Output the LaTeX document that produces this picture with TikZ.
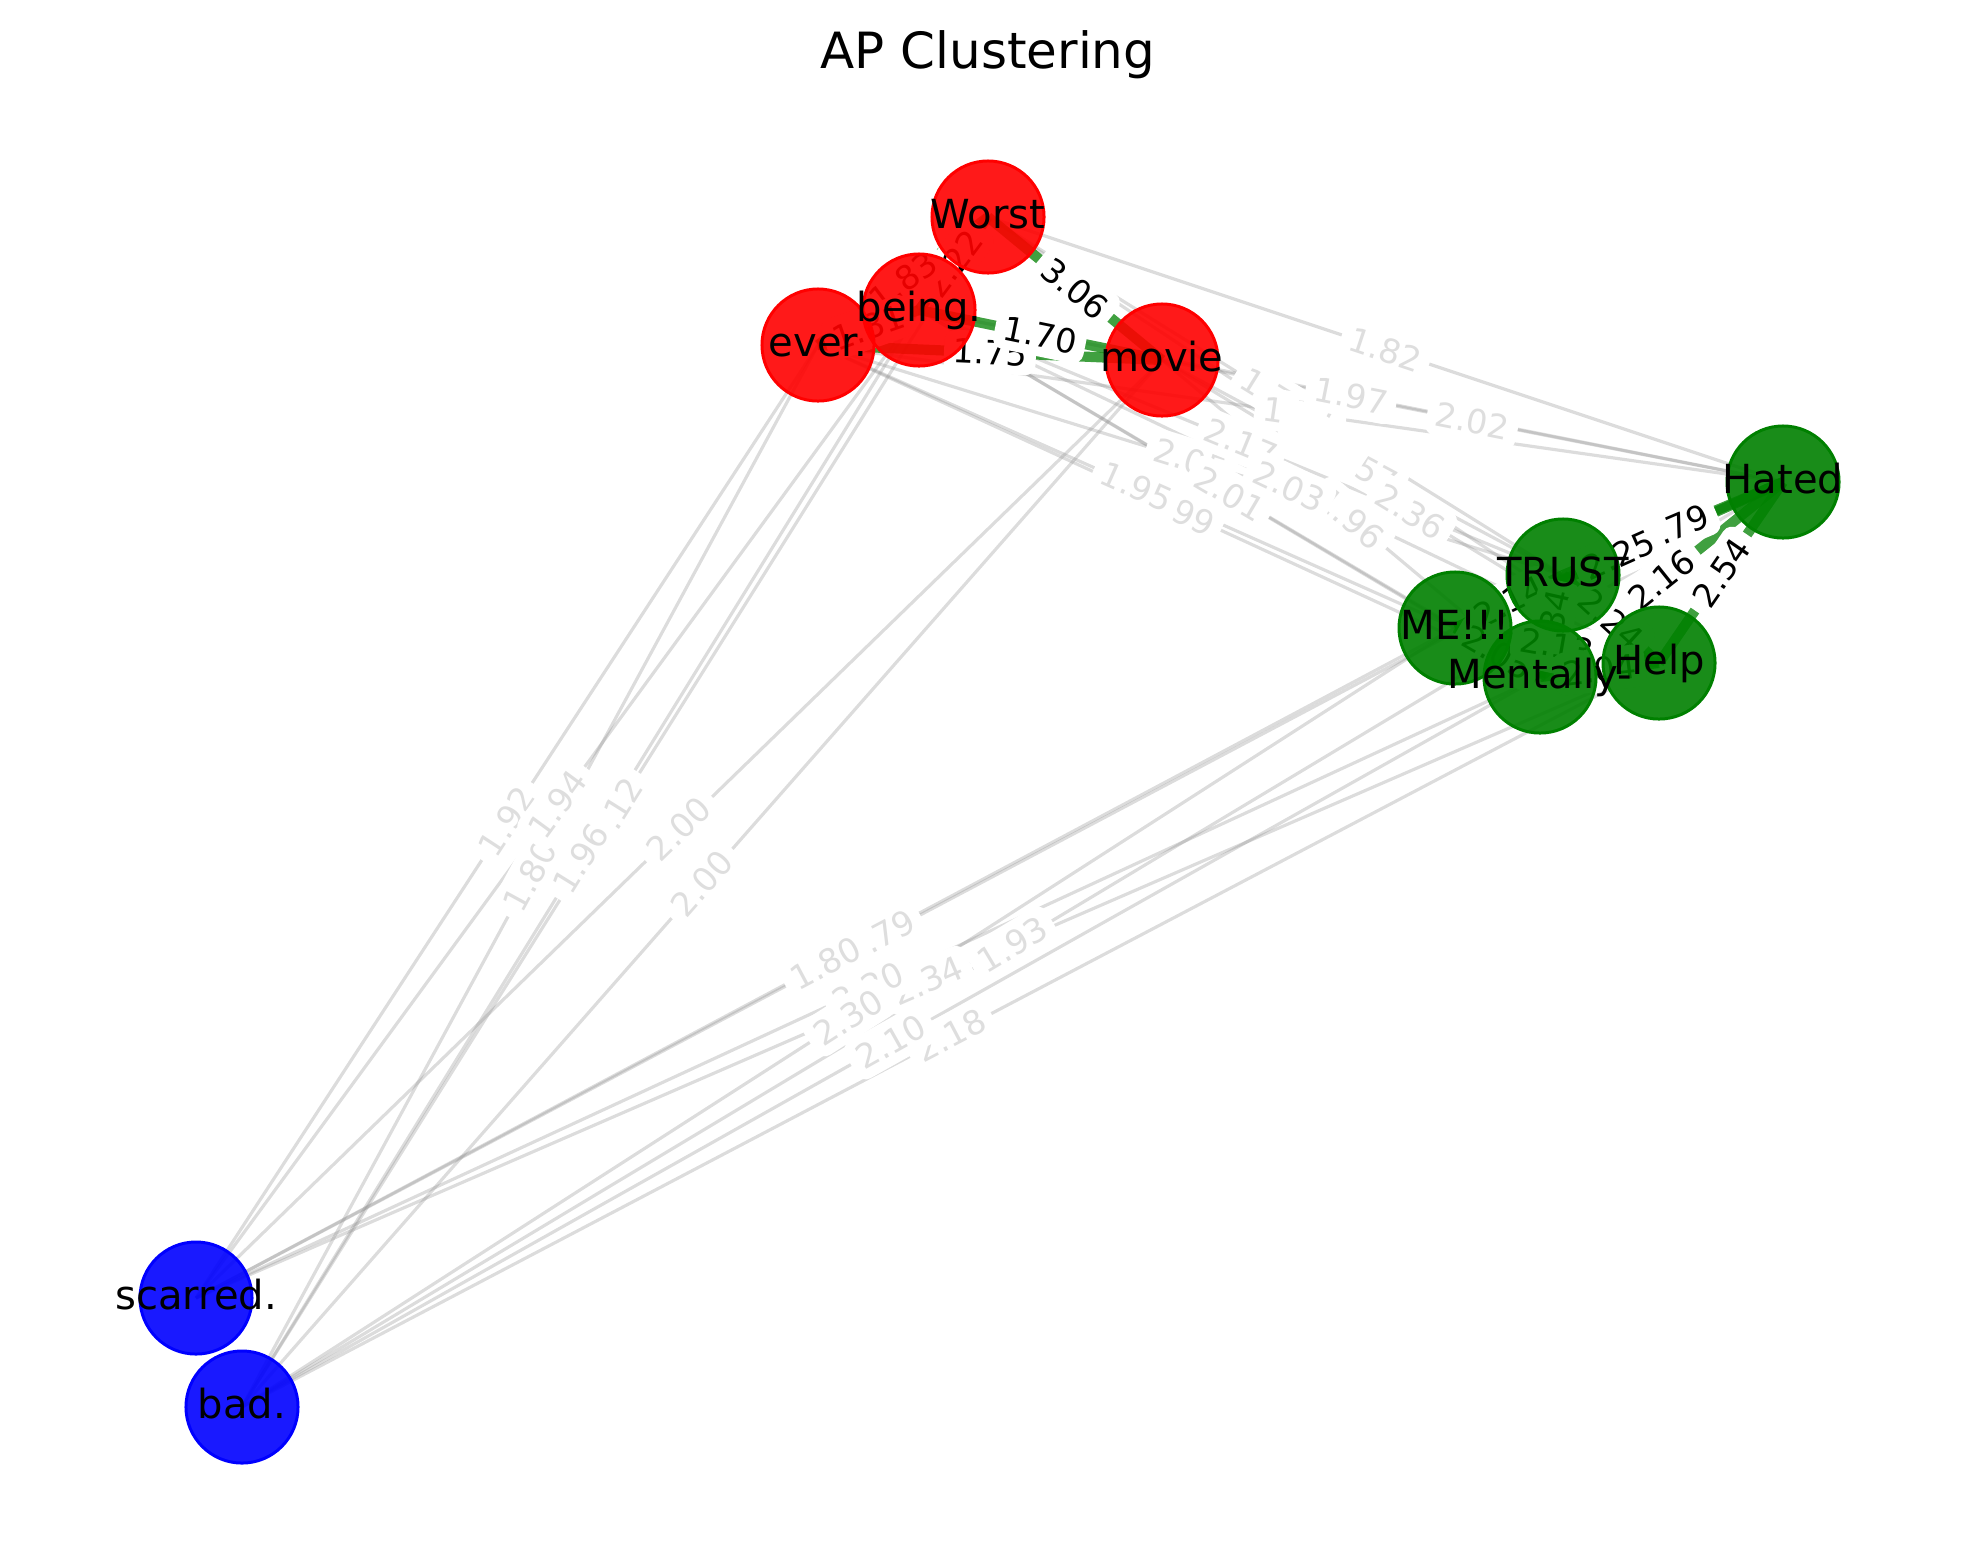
\documentclass[tikz,border=0pt]{standalone}
\usepackage{fontspec}
\setmainfont{DejaVu Sans}
\newcommand{\nolabel}{\phantom{0.00}}

\begin{document}
\begin{tikzpicture}[x={(0.01cm,0cm)}, y={(0cm,-0.01cm)},
    interedge/.style={draw=black!45, opacity=0.3, line width=0.9pt},
    intraedge/.style={draw=green!50!black, opacity=0.75, line width=2.9pt},
    wlabel/.style={midway, sloped, fill=white, rounded corners=3pt, inner sep=2.5pt,
        font=\fontsize{9.5}{11}\selectfont},
    graylabel/.style={wlabel, text=black!13},
    blacklabel/.style={wlabel, text=black},
    word/.style={circle, minimum size=1.12cm, inner sep=0pt, line width=0.85pt, fill opacity=0.9},
    wordtext/.style={font=\fontsize{11.4}{13}\selectfont, inner sep=0pt,
        text height=0.76em, text depth=0.1em}]
    % canvas measured in pixels of the figure, y pointing down
    \useasboundingbox (0,0) rectangle (1980,1563);
    \node[anchor=base] (title) at (988,68) {\fontsize{14.2}{17}\selectfont AP Clustering};

    % word positions
    \coordinate (worst) at (988,217);
    \coordinate (being) at (919,310);
    \coordinate (ever) at (818,345);
    \coordinate (movie) at (1162,360);
    \coordinate (hated) at (1783,482);
    \coordinate (trust) at (1563,575);
    \coordinate (me) at (1455,628);
    \coordinate (mentally) at (1540,677);
    \coordinate (help) at (1659,663);
    \coordinate (scarred) at (196,1298);
    \coordinate (bad) at (242,1407);

    % edges between clusters
    \foreach \a/\b in {worst/trust, ever/mentally, ever/trust, being/trust, movie/trust,
        movie/mentally, worst/hated, ever/hated, worst/help, being/hated, movie/hated,
        ever/me, being/me, being/mentally, being/help, movie/help,
        ever/scarred, ever/bad, worst/bad, being/scarred, being/bad, movie/scarred, movie/bad,
        help/scarred, mentally/scarred, trust/scarred, me/scarred, help/bad, me/bad,
        mentally/bad, hated/bad}
        \draw[interedge] (\a) -- (\b);

    % edges inside a cluster
    \foreach \a/\b in {worst/being, worst/ever, being/ever, ever/movie, worst/movie,
        being/movie, hated/trust, hated/me, hated/mentally, hated/help, trust/me,
        trust/mentally, trust/help, me/mentally, me/help, mentally/help}
        \draw[intraedge] (\a) -- (\b);

    % weights between clusters
    \foreach \a/\b/\w in {being/me/\nolabel, worst/trust/1.77, ever/mentally/1.99,
        ever/trust/2.05, being/trust/2.17, movie/trust/2.57, movie/mentally/1.96,
        worst/hated/1.82, ever/hated/1.77, worst/help/\nolabel, being/hated/1.97,
        movie/hated/2.02, ever/me/1.95, being/mentally/2.01, being/help/2.03,
        movie/help/2.36,
        ever/scarred/1.92, ever/bad/1.80, worst/bad/2.12, being/scarred/1.94,
        being/bad/1.96, movie/scarred/2.00, movie/bad/2.00,
        help/scarred/2.34, mentally/scarred/2.20, trust/scarred/1.79, me/scarred/1.80,
        help/bad/2.18, me/bad/2.30, mentally/bad/2.10, hated/bad/1.93}
        \path (\a) -- (\b) node[graylabel] {\w};

    % weights inside a cluster
    \foreach \a/\b/\w in {worst/being/2.22, worst/ever/1.83, being/ever/1.81,
        ever/movie/1.75, worst/movie/3.06, being/movie/1.70,
        trust/me/2.14, trust/mentally/2.34, trust/help/2.24, me/mentally/2.05,
        me/help/2.13, mentally/help/2.04, hated/trust/1.79, hated/me/2.25,
        hated/mentally/2.16, hated/help/2.54}
        \path (\a) -- (\b) node[blacklabel] {\w};

    % words
    \foreach \n/\c in {worst/red, being/red, ever/red, movie/red,
        hated/green!50!black, trust/green!50!black, me/green!50!black,
        mentally/green!50!black, help/green!50!black, scarred/blue, bad/blue}
        \node[word, fill=\c, draw=\c] (\n-dot) at (\n) {};
    \foreach \n/\t in {worst/Worst, being/being., ever/ever., movie/movie, hated/Hated,
        trust/TRUST, me/ME!!!, mentally/Mentally-, help/Help, scarred/scarred., bad/bad.}
        \node[wordtext] (\n-text) at (\n) {\t};
\end{tikzpicture}
\end{document}
